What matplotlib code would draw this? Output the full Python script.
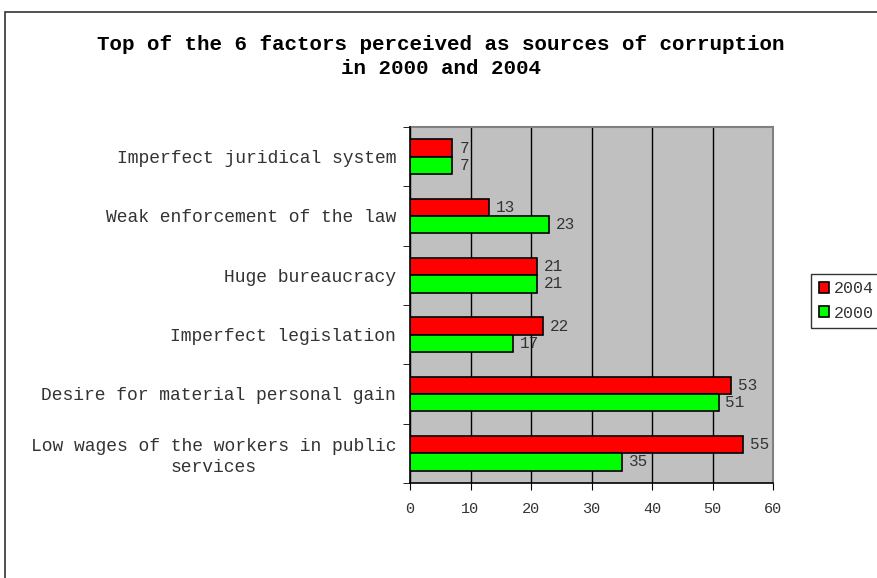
import numpy as np
import matplotlib.pyplot as plt
from matplotlib.patches import Rectangle

categories = ['Imperfect juridical system',
              'Weak enforcement of the law',
              'Huge bureaucracy',
              'Imperfect legislation',
              'Desire for material personal gain',
              'Low wages of the workers in public\nservices']
vals_2004 = [7, 13, 21, 22, 53, 55]
vals_2000 = [7, 23, 21, 17, 51, 35]
xticks = [0, 10, 20, 30, 40, 50, 60]

mono = 'Liberation Mono'
txt_col = '#333333'

fig = plt.figure(figsize=(8.77, 5.78), dpi=100)
fig.patch.set_facecolor('white')

# outer chart frame (runs off the right and bottom edges)
fig.add_artist(Rectangle((5 / 877, -0.1), 1.2, 1.1 - 12 / 578,
                         transform=fig.transFigure, fill=False,
                         edgecolor='#333333', linewidth=1.2))

ax = fig.add_axes([410 / 877, 1 - 483 / 578, 363 / 877, 356 / 578])
ax.set_facecolor('#c0c0c0')

y = np.arange(len(categories))
h = 0.29
ax.barh(y - h / 2, vals_2004, height=h, color='#ff0000', edgecolor='black',
        linewidth=1.2, label='2004', zorder=3)
ax.barh(y + h / 2, vals_2000, height=h, color='#00ff00', edgecolor='black',
        linewidth=1.2, label='2000', zorder=3)

for yy, v in zip(y - h / 2, vals_2004):
    ax.annotate(str(v), (v, yy), xytext=(5, 0), textcoords='offset points',
                va='center', ha='left', fontsize=11.5, family=mono,
                color=txt_col, zorder=4)
for yy, v in zip(y + h / 2, vals_2000):
    ax.annotate(str(v), (v, yy), xytext=(5, 0), textcoords='offset points',
                va='center', ha='left', fontsize=11.5, family=mono,
                color=txt_col, zorder=4)

ax.set_xlim(0, 60)
ax.set_ylim(5.5, -0.5)
ax.set_xticks(xticks)
ax.set_xticklabels([str(t) for t in xticks], family=mono, fontsize=11,
                   color=txt_col)
ax.set_yticks(y)
ax.set_yticklabels(categories, family=mono, fontsize=13, color=txt_col,
                   multialignment='center', linespacing=1.3)
ax.set_yticks(np.arange(-0.5, 6, 1), minor=True)
ax.tick_params(axis='y', which='major', length=0, pad=10)
ax.tick_params(axis='y', which='minor', length=5, direction='out',
               color='black')
ax.tick_params(axis='x', length=5, direction='out', color='black', pad=9)

ax.grid(axis='x', color='black', linewidth=1, zorder=1)
ax.set_axisbelow(True)
for s in ['top', 'right']:
    ax.spines[s].set_color('#808080')
    ax.spines[s].set_linewidth(1.5)
for s in ['left', 'bottom']:
    ax.spines[s].set_color('black')
    ax.spines[s].set_linewidth(1.2)
    ax.spines[s].set_zorder(5)

fig.text(441 / 877, 1 - 44 / 578, 'Top of the 6 factors perceived as sources of corruption',
         ha='center', va='center', family=mono, fontweight='bold',
         fontsize=15, color='black')
fig.text(441 / 877, 1 - 69 / 578, 'in 2000 and 2004',
         ha='center', va='center', family=mono, fontweight='bold',
         fontsize=15, color='black')

leg = fig.legend(loc='upper left', bbox_to_anchor=(811 / 877, 1 - 274 / 578),
                 prop={'family': mono, 'size': 12}, frameon=True,
                 fancybox=False, edgecolor='black', handlelength=0.65,
                 handleheight=0.65, handletextpad=0.3, borderpad=0.45,
                 labelspacing=0.55, borderaxespad=0)
leg.get_frame().set_linewidth(1)
for t in leg.get_texts():
    t.set_color(txt_col)

fig.savefig('out.png', dpi=100)
